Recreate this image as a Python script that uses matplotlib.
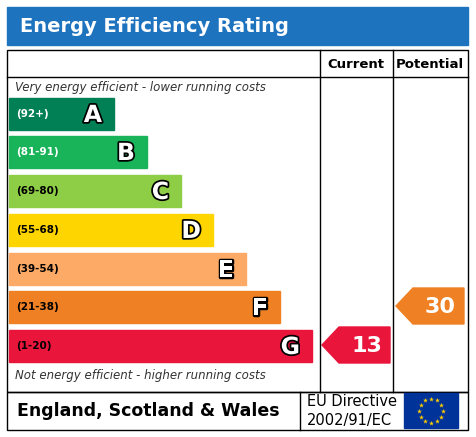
import matplotlib
matplotlib.use("Agg")
import matplotlib.pyplot as plt
from matplotlib.patches import Rectangle, Polygon
import matplotlib.patheffects as pe
import numpy as np

bands = ["A", "B", "C", "D", "E", "F", "G"]
ranges = ["(92+)", "(81-91)", "(69-80)", "(55-68)", "(39-54)", "(21-38)", "(1-20)"]
lows = [92, 81, 69, 55, 39, 21, 1]
colors = ["#008054", "#19b459", "#8dce46", "#ffd500", "#fcaa65", "#ef8023", "#e9153b"]
range_text_colors = ["white", "white", "black", "black", "black", "black", "black"]
current = 13
potential = 30

W, H = 476, 437
fig = plt.figure(figsize=(W/100, H/100), dpi=100)
ax = fig.add_axes([0, 0, 1, 1])
ax.set_xlim(0, W); ax.set_ylim(H, 0); ax.axis("off")

# title bar
ax.add_patch(Rectangle((7, 7), 461, 38, color="#1e73be"))
ax.text(20, 26, "Energy Efficiency Rating", color="white", fontsize=14, fontweight="bold", va="center")

lw = 1
ax.add_patch(Rectangle((7, 50), 461, 342, fill=False, ec="black", lw=lw))
ax.add_patch(Rectangle((7, 392), 461, 38, fill=False, ec="black", lw=lw))
ax.plot([320, 320], [50, 392], color="black", lw=lw)
ax.plot([393, 393], [50, 392], color="black", lw=lw)
ax.plot([7, 468], [77, 77], color="black", lw=lw)
ax.text(356, 64, "Current", fontsize=9.5, fontweight="bold", ha="center", va="center")
ax.text(430, 64, "Potential", fontsize=9.5, fontweight="bold", ha="center", va="center")

ax.text(15, 88, "Very energy efficient - lower running costs", fontsize=8.5, style="italic", color="#333333", va="center")
ax.text(15, 375, "Not energy efficient - higher running costs", fontsize=8.5, style="italic", color="#333333", va="center")

tops = [98, 136, 175, 214, 253, 291, 330]
rights = [114, 147, 181, 213, 246, 280, 312]
bh = 32
stroke = [pe.withStroke(linewidth=2.5, foreground="black")]
for b, r, c, tc, t, x1 in zip(bands, ranges, colors, range_text_colors, tops, rights):
    ax.add_patch(Rectangle((9, t), x1 - 9, bh, color=c))
    ax.text(16, t + bh/2, r, fontsize=7.5, fontweight="bold", color=tc, va="center")
    ax.text(x1 - 12, t + bh/2 + 1, b, fontsize=17, fontweight="bold", color="white",
            ha="right", va="center", path_effects=stroke)

def band_index(v):
    for i, lo in enumerate(lows):
        if v >= lo:
            return i
    return len(lows) - 1

def arrow(v, x0, x1):
    i = band_index(v)
    t = tops[i] - 3; b = t + 36; m = (t + b) / 2
    pts = [(x0, m), (x0 + 17, t), (x1, t), (x1, b), (x0 + 17, b)]
    ax.add_patch(Polygon(pts, color=colors[i]))
    ax.text((x0 + 17 + x1) / 2 + 2, m + 1, str(v), fontsize=16, fontweight="bold",
            color="white", ha="center", va="center")

arrow(current, 322, 390)
arrow(potential, 396, 464)

ax.text(17, 411, "England, Scotland & Wales", fontsize=12.5, fontweight="bold", va="center")
ax.plot([300, 300], [392, 430], color="black", lw=lw)
ax.text(307, 402, "EU Directive", fontsize=10.5, va="center")
ax.text(307, 420, "2002/91/EC", fontsize=10.5, va="center")
ax.add_patch(Rectangle((404, 393), 54, 35, color="#003399"))
ang = np.linspace(0, 2*np.pi, 13)[:-1]
ax.scatter(431 + 12*np.cos(ang), 410.5 + 12*np.sin(ang), marker="*", s=14, color="#ffcc00", lw=0)

fig.savefig("out.png", dpi=100)
